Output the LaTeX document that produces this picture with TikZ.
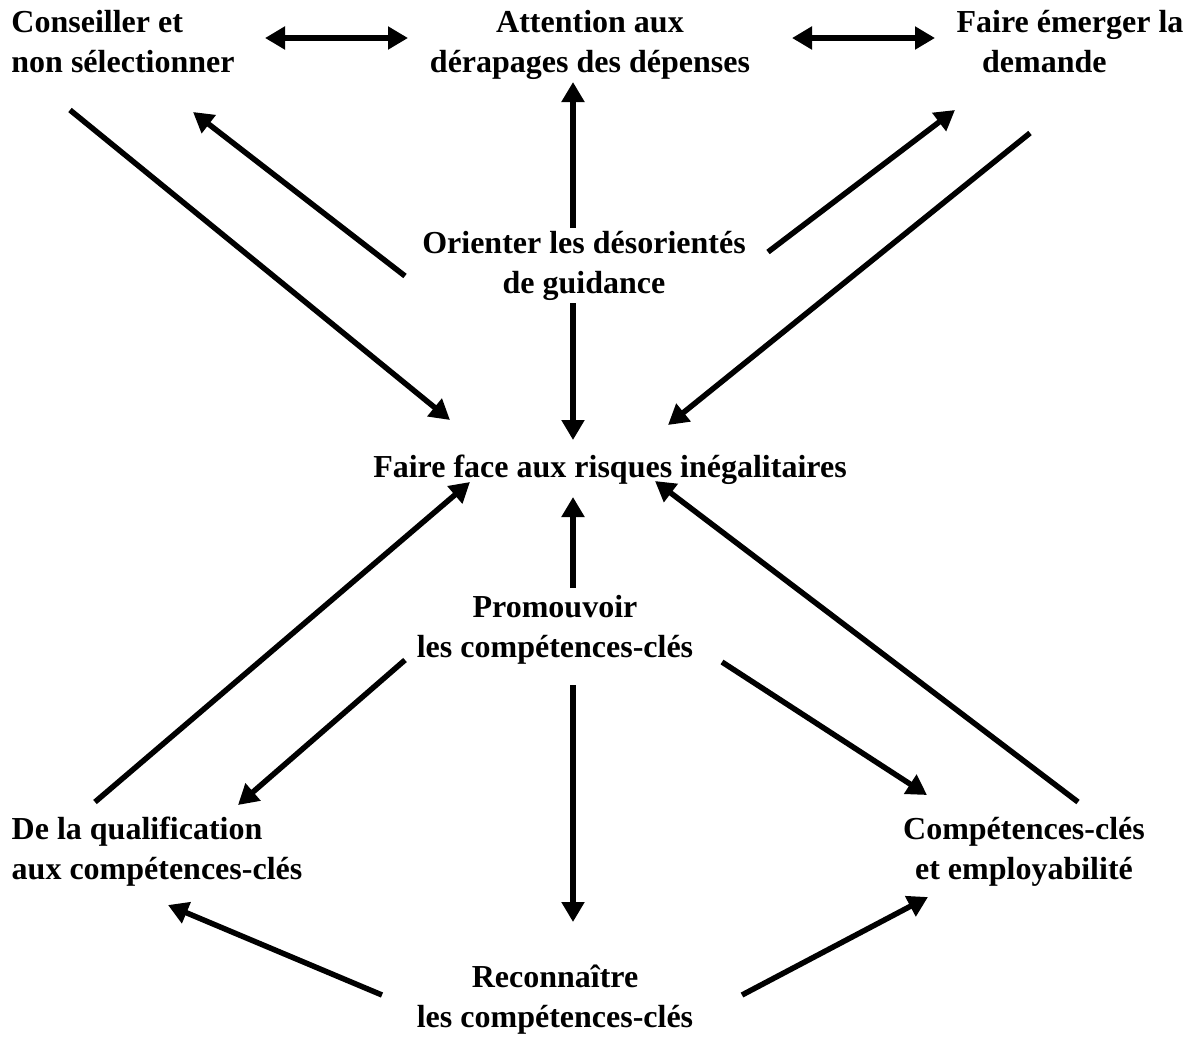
\documentclass[tikz,border=0pt]{standalone}
\usepackage{fontspec}
\setmainfont{Liberation Serif}
\usetikzlibrary{arrows.meta,calc}

\begin{document}
\begin{tikzpicture}[x=1pt,y=-1pt,
    lbl/.style={inner sep=0pt, font=\fontsize{32}{40}\selectfont\bfseries, align=center},
    arr/.style={line width=5.5pt, -{Triangle[length=20pt,width=22pt]}},
    both/.style={line width=5.5pt, {Triangle[length=20pt,width=22pt]}-{Triangle[length=20pt,width=22pt]}}]
  \useasboundingbox (0,0) rectangle (1194,1037);

  % top row
  \node[lbl, align=left] (cons) at (123,42) {Conseiller et\\non sélectionner};
  \node[lbl] (att) at (590,45) {Attention aux\\dérapages des dépenses};
  \node[lbl, align=left] (faire) at (1070,42) {Faire émerger la\\\hspace*{0.8em}demande};

  % middle
  \node[lbl] (orient) at (584,266) {Orienter les désorientés\\de guidance};
  \node[lbl] (face) at (610,470) {Faire face aux risques inégalitaires};
  \node[lbl] (promo) at (555,630) {Promouvoir\\les compétences-clés};

  % bottom
  \node[lbl, align=left] (qual) at (157,852) {De la qualification\\aux compétences-clés};
  \node[lbl] (comp) at (1024,852) {Compétences-clés\\et employabilité};
  \node[lbl] (rec) at (555,1000) {Reconnaître\\les compétences-clés};

  % upper half
  \draw[both] ($(cons)+(142,-4)$) -- ($(att)+(-182,-7)$);
  \draw[both] ($(att)+(202,-7)$) -- ($(faire)+(-135,-4)$);
  \draw[arr] ($(orient)+(-11,-38)$) -- ($(att)+(-17,37)$);
  \draw[arr] ($(orient)+(-179,10)$) -- ($(cons)+(70,70)$);
  \draw[arr] ($(orient)+(184,-14)$) -- ($(faire)+(-115,68)$);
  \draw[arr] ($(cons)+(-53,68)$) -- ($(face)+(-160,-50)$);
  \draw[arr] ($(faire)+(-40,91)$) -- ($(face)+(58,-45)$);
  \draw[arr] ($(orient)+(-11,37)$) -- ($(face)+(-37,-30)$);

  % lower half
  \draw[arr] ($(promo)+(18,-42)$) -- ($(face)+(-37,27)$);
  \draw[arr] ($(qual)+(-62,-50)$) -- ($(face)+(-140,12)$);
  \draw[arr] ($(comp)+(54,-50)$) -- ($(face)+(45,11)$);
  \draw[arr] ($(promo)+(-150,30)$) -- ($(qual)+(81,-47)$);
  \draw[arr] ($(promo)+(167,32)$) -- ($(comp)+(-97,-57)$);
  \draw[arr] ($(promo)+(18,55)$) -- ($(rec)+(18,-78)$);
  \draw[arr] ($(rec)+(-173,-5)$) -- ($(qual)+(11,53)$);
  \draw[arr] ($(rec)+(187,-5)$) -- ($(comp)+(-96,45)$);
\end{tikzpicture}
\end{document}
